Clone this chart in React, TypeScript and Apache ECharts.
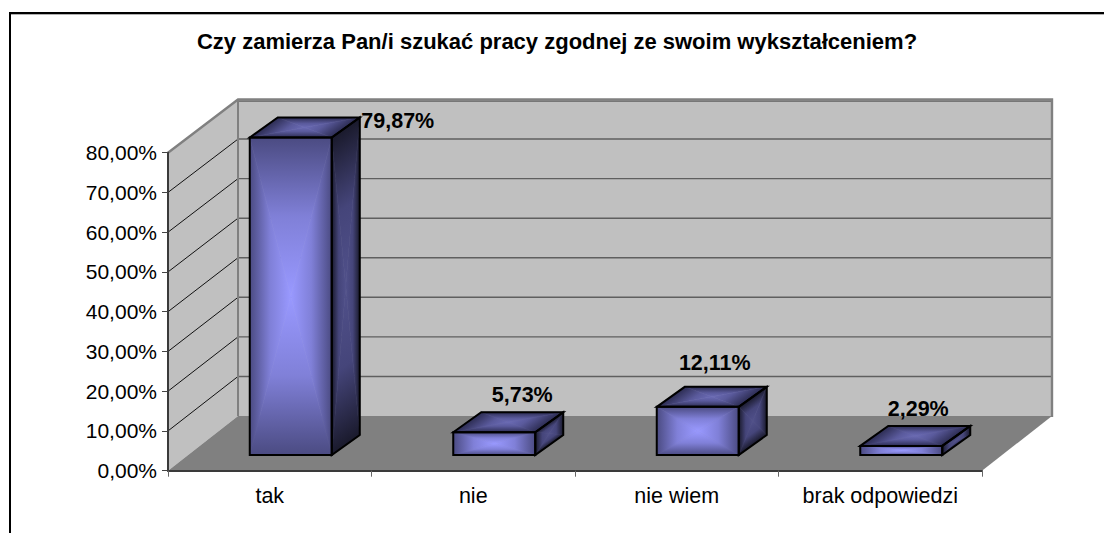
import React, { useEffect, useRef } from "react";
import * as echarts from "echarts";

const titleText = "Czy zamierza Pan/i szukać pracy zgodnej ze swoim wykształceniem?";
const categories = ["tak", "nie", "nie wiem", "brak odpowiedzi"];
const percentValues = [79.87, 5.73, 12.11, 2.29];
const valueLabels = ["79,87%", "5,73%", "12,11%", "2,29%"];
const yTicks = [0, 10, 20, 30, 40, 50, 60, 70, 80];

const FONT = '"Liberation Sans", Arial, sans-serif';
const WALL_DX = 70;
const WALL_DY = -54.7;
const WALL_TOP_SHRINK = 1.5;
const BAR_GAP_DX = 21;
const BAR_GAP_DY = -15.7;
const BAR_DEPTH_DX = 28;
const BAR_DEPTH_DY = -20;
const BAR_WIDTH_RATIO = 82 / 203.5;
const labelNudges = [
  [107, 3],
  [28, -17],
  [17, -24],
  [17, -17],
];

type P = [number, number];

function gatherFace(corners: P[], stops: [number, string][]) {
  const c: P = [
    corners.reduce((s, p) => s + p[0], 0) / corners.length,
    corners.reduce((s, p) => s + p[1], 0) / corners.length,
  ];
  const kids: any[] = [];
  corners.forEach((a, i) => {
    const b = corners[(i + 1) % corners.length];
    const ex = b[0] - a[0];
    const ey = b[1] - a[1];
    const t = ((c[0] - a[0]) * ex + (c[1] - a[1]) * ey) / (ex * ex + ey * ey);
    const foot: P = [a[0] + t * ex, a[1] + t * ey];
    const grad = new echarts.graphic.LinearGradient(
      foot[0],
      foot[1],
      c[0],
      c[1],
      stops.map(([offset, color]) => ({ offset, color })),
      true
    );
    kids.push({
      type: "polygon",
      shape: { points: [a, b, c] },
      style: { fill: grad, stroke: grad, lineWidth: 0.6 },
      silent: true,
    });
  });
  return kids;
}

function outline(points: P[]) {
  return {
    type: "polygon",
    shape: { points },
    style: { fill: "none", stroke: "#000", lineWidth: 2, lineJoin: "miter" },
    silent: true,
  };
}

function renderWalls(params: any, api: any) {
  const cs = params.coordSys;
  const left = cs.x;
  const right = cs.x + cs.width;
  const maxV = yTicks[yTicks.length - 1];
  const y0 = api.coord([0, 0])[1];
  const yTop = api.coord([0, maxV])[1];
  const wallY = (v: number) => api.coord([0, v])[1] + WALL_DY + (v / maxV) * WALL_TOP_SHRINK;
  const wy0 = wallY(0);
  const wyTop = wallY(maxV);
  const children: any[] = [
    {
      type: "polygon",
      shape: {
        points: [
          [left + WALL_DX, wyTop],
          [right + WALL_DX, wyTop],
          [right + WALL_DX, wy0],
          [left + WALL_DX, wy0],
        ],
      },
      style: { fill: "#c0c0c0" },
    },
    {
      type: "polygon",
      shape: {
        points: [
          [left, yTop],
          [left + WALL_DX, wyTop],
          [left + WALL_DX, wy0],
          [left, y0],
        ],
      },
      style: { fill: "#c0c0c0" },
    },
    {
      type: "polygon",
      shape: {
        points: [
          [left, y0],
          [right, y0],
          [right + WALL_DX, wy0],
          [left + WALL_DX, wy0],
        ],
      },
      style: { fill: "#808080" },
    },
  ];
  yTicks.slice(1).forEach((v) => {
    const y = api.coord([0, v])[1];
    const wy = wallY(v);
    children.push({
      type: "line",
      shape: {
        x1: left + WALL_DX,
        y1: v === maxV ? wy + 1.6 : wy,
        x2: right + WALL_DX,
        y2: v === maxV ? wy + 1.6 : wy,
      },
      style: { stroke: "#5f5f5f", lineWidth: 1.4 },
    });
    if (v < maxV)
      children.push({
        type: "line",
        shape: { x1: left, y1: y, x2: left + WALL_DX, y2: wy },
        style: { stroke: "#111", lineWidth: 1 },
      });
  });
  children.push({
    type: "polyline",
    shape: {
      points: [
        [left, yTop],
        [left + WALL_DX, wyTop],
        [right + WALL_DX, wyTop],
        [right + WALL_DX, wy0 + 1],
      ],
    },
    style: { fill: "none", stroke: "#808080", lineWidth: 2.4 },
  });
  children.push({
    type: "line",
    shape: { x1: left + WALL_DX, y1: wyTop, x2: left + WALL_DX, y2: wy0 },
    style: { stroke: "#808080", lineWidth: 2 },
  });
  return { type: "group", children };
}

const frontStops: [number, string][] = [
  [0, "#4b4b82"],
  [0.5, "#8080d8"],
  [1, "#9999ff"],
];
const topStops: [number, string][] = [
  [0, "#2c2c52"],
  [0.6, "#5a5a9c"],
  [1, "#6a6ab4"],
];
const sideStops: [number, string][] = [
  [0, "#1a1a2c"],
  [0.5, "#45457a"],
  [1, "#50508a"],
];

function renderBar(params: any, api: any) {
  const i = api.value(0);
  const v = api.value(1);
  const base = api.coord([i, 0]);
  const top = api.coord([i, v]);
  const w = api.size([1, 0])[0] * BAR_WIDTH_RATIO;
  const xL = base[0] + BAR_GAP_DX - w / 2;
  const xR = xL + w;
  const yB = base[1] + BAR_GAP_DY;
  const yT = top[1] + BAR_GAP_DY;
  const dx = BAR_DEPTH_DX;
  const dy = BAR_DEPTH_DY;
  const front: P[] = [[xL, yT], [xR, yT], [xR, yB], [xL, yB]];
  const topFace: P[] = [[xL, yT], [xL + dx, yT + dy], [xR + dx, yT + dy], [xR, yT]];
  const side: P[] = [[xR, yT], [xR + dx, yT + dy], [xR + dx, yB + dy], [xR, yB]];
  const nudge = labelNudges[params.dataIndex];
  return {
    type: "group",
    children: [
      ...gatherFace(front, frontStops),
      ...gatherFace(topFace, topStops),
      ...gatherFace(side, sideStops),
      outline(front),
      outline(topFace),
      outline(side),
      {
        type: "text",
        silent: true,
        style: {
          text: valueLabels[params.dataIndex],
          x: xL + w / 2 + nudge[0],
          y: yT + dy + nudge[1],
          textAlign: "center",
          textVerticalAlign: "middle",
          font: `bold 21.5px ${FONT}`,
          fill: "#000",
        },
      },
    ],
  };
}

export default function App() {
  const ref = useRef<HTMLDivElement>(null);
  useEffect(() => {
    if (!ref.current) return;
    const chart = echarts.init(ref.current, undefined, { renderer: "svg" });
    chart.setOption({
      animation: false,
      backgroundColor: "#fff",
      title: {
        text: titleText,
        left: 552,
        top: 25,
        textAlign: "center",
        textStyle: { fontFamily: FONT, fontWeight: "bold", fontSize: 22, color: "#000" },
      },
      grid: { left: 168, top: 152.7, width: 814, height: 318, containLabel: false },
      xAxis: {
        type: "category",
        data: categories,
        z: 10,
        axisLine: { lineStyle: { color: "#3a3a3a", width: 2 } },
        axisTick: { show: true, length: 6, alignWithLabel: false, lineStyle: { color: "#666", width: 1 } },
        axisLabel: { fontFamily: FONT, fontSize: 21.5, color: "#000", margin: 14, interval: 0 },
        splitLine: { show: false },
      },
      yAxis: {
        type: "value",
        min: 0,
        max: 80,
        interval: 10,
        z: 10,
        axisLine: { show: true, lineStyle: { color: "#3a3a3a", width: 2 } },
        axisTick: { show: true, length: 6, lineStyle: { color: "#444", width: 1 } },
        axisLabel: {
          fontFamily: FONT,
          fontSize: 21,
          color: "#000",
          margin: 11,
          formatter: (val: number) => val.toFixed(2).replace(".", ",") + "%",
        },
        splitLine: { show: false },
      },
      graphic: [
        {
          type: "polyline",
          silent: true,
          shape: { points: [[1104, 13], [10, 13], [10, 533]] },
          style: { fill: "none", stroke: "#000", lineWidth: 2 },
        },
        {
          type: "line",
          silent: true,
          shape: { x1: 11, y1: 14.5, x2: 1104, y2: 14.5 },
          style: { stroke: "#b0b0b0", lineWidth: 1 },
        },
      ],
      series: [
        {
          type: "custom",
          z: 1,
          silent: true,
          clip: false,
          renderItem: renderWalls,
          data: [[0, 0]],
          encode: { x: 0, y: 1 },
        },
        {
          type: "custom",
          z: 3,
          silent: true,
          clip: false,
          renderItem: renderBar,
          data: percentValues.map((v, i) => [i, v]),
          encode: { x: 0, y: 1 },
        },
      ],
    });
    return () => chart.dispose();
  }, []);
  return (
    <div
      ref={ref}
      style={{ position: "absolute", left: 0, top: 0, width: 1104, height: 533 }}
    />
  );
}
